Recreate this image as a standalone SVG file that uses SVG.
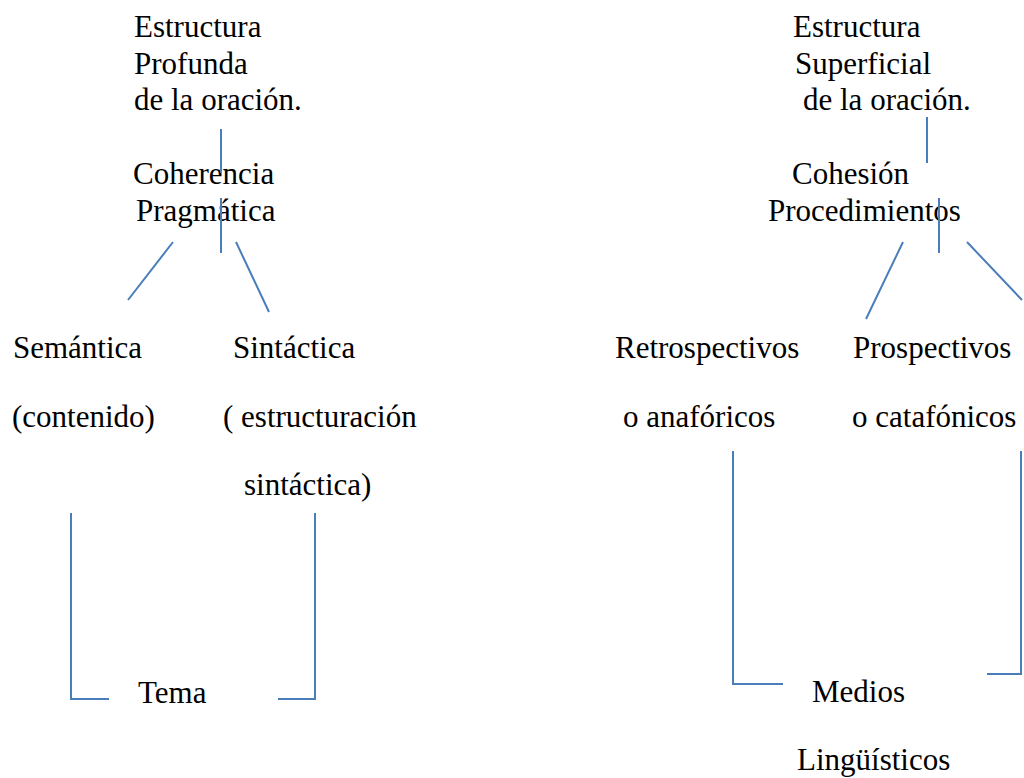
<svg xmlns="http://www.w3.org/2000/svg" width="1024" height="778" viewBox="0 0 1024 778">
<style>
.c{stroke:#4a7ebb;stroke-width:2;fill:none}
</style>
<rect width="1024" height="778" fill="#fff"/>
<g font-family="Liberation Serif, Times New Roman, serif" font-size="31" fill="#000">
<g id="profunda"><text x="134" y="37">Estructura</text><text x="134" y="74">Profunda</text><text x="134" y="110">de la oración.</text></g>
<g id="coherencia"><text x="133" y="184">Coherencia</text><text x="136" y="221">Pragmática</text></g>
<g id="semantica"><text x="13" y="358">Semántica</text><text x="12" y="427">(contenido)</text></g>
<g id="sintactica"><text x="233" y="358">Sintáctica</text><text x="223" y="427">( estructuración</text><text x="244" y="495">sintáctica)</text></g>
<g id="tema"><text x="138" y="703">Tema</text></g>
<g id="superficial"><text x="793" y="37">Estructura</text><text x="795" y="74">Superficial</text><text x="803" y="110">de la oración.</text></g>
<g id="cohesion"><text x="792" y="184">Cohesión</text><text x="768" y="221">Procedimientos</text></g>
<g id="retrospectivos"><text x="615" y="358">Retrospectivos</text><text x="623" y="427">o anafóricos</text></g>
<g id="prospectivos"><text x="853" y="358">Prospectivos</text><text x="852" y="427">o catafónicos</text></g>
<g id="medios"><text x="812" y="702">Medios</text><text x="797" y="770">Lingüísticos</text></g>
</g>
<g id="connectors" class="c">
<path d="M221 129V173M221 198V253M173 242L128 300M236 242L269 312"/>
<path d="M71 513V699H109M315 513V699H278"/>
<path d="M927 117V163M939 198V253M903 242L866 319M967 242L1022 300"/>
<path d="M733 451V684H783M1021 451V674H987"/>
</g>
</svg>
